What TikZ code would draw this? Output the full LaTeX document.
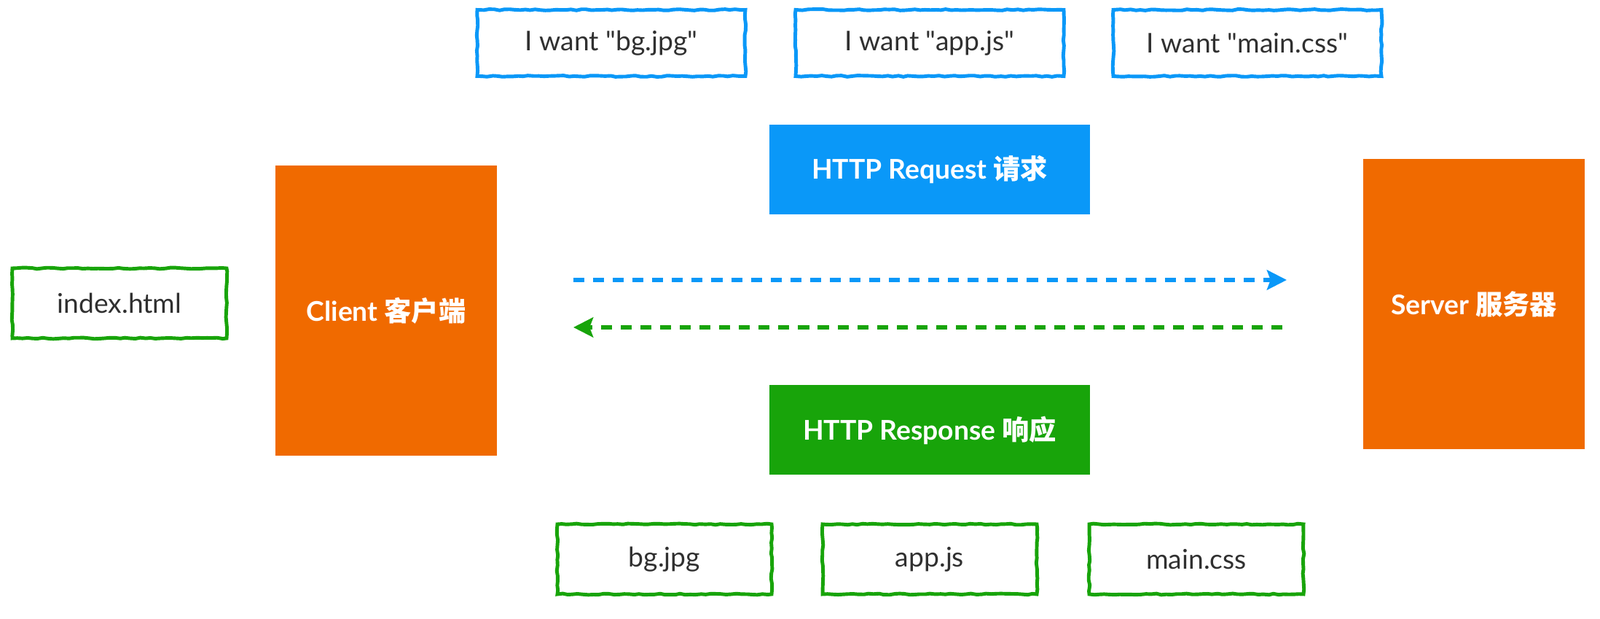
\documentclass[tikz,border=0pt]{standalone}
\usepackage{fontspec}
\setmainfont{Lato}[Ligatures=TeXOff]
\newfontfamily\cjk{Noto Sans CJK SC}
\usetikzlibrary{arrows.meta,decorations.pathmorphing}
\definecolor{reqblue}{HTML}{0A98F8}
\definecolor{resgreen}{HTML}{18A40A}
\definecolor{endorange}{HTML}{F06A00}
\definecolor{filegray}{HTML}{303030}

\begin{document}
\begin{tikzpicture}[
  x=1cm, y=1cm,
  every node/.style={inner sep=1pt, font=\fontsize{10.6pt}{12pt}\selectfont},
  sketch/.style={draw, line width=1.4pt, fill=white, text=filegray,
    decorate, decoration={random steps, segment length=2pt, amplitude=0.25pt}},
  askbox/.style={sketch, draw=reqblue, minimum width=3.68cm, minimum height=0.91cm},
  filebox/.style={sketch, draw=resgreen, minimum width=2.94cm, minimum height=0.96cm},
  endbox/.style={fill=endorange, text=white, minimum width=3.04cm, minimum height=3.98cm,
    font=\fontsize{10.6pt}{12pt}\selectfont\bfseries},
  msgbox/.style={text=white, minimum width=4.40cm, minimum height=1.23cm,
    font=\fontsize{10.6pt}{12pt}\selectfont\bfseries},
  flow/.style={draw, line width=1.7pt, dash pattern=on 4.3pt off 3.4pt,
    -{Stealth[length=7.7pt, width=7.7pt, inset=1.4pt]}}]

  \useasboundingbox (0,0) rectangle (21.96,8.49);

  % ---- requests ------------------------------------------------------------
  \node[askbox] (wantbg)  at (8.39,7.90)  {I want "bg.jpg"};
  \node[askbox] (wantapp) at (12.76,7.90) {I want "app.js"};
  \node[askbox] (wantcss) at (17.12,7.90) {I want "main.css"};
  \node[msgbox, fill=reqblue] (request) at (12.76,6.16) {HTTP Request {\cjk 请求}};

  % ---- ends ----------------------------------------------------------------
  \node[filebox] (index) at (1.64,4.33) {index.html};
  \node[endbox] (client) at (5.30,4.23) {Client {\cjk 客户端}};
  \node[endbox] (server) at (20.23,4.32) {Server {\cjk 服务器}};

  % ---- responses -----------------------------------------------------------
  \node[msgbox, fill=resgreen] (response) at (12.76,2.59) {HTTP Response {\cjk 响应}};
  \node[filebox] (gotbg)  at (9.12,0.82)  {bg.jpg};
  \node[filebox] (gotapp) at (12.76,0.82) {app.js};
  \node[filebox] (gotcss) at (16.42,0.82) {main.css};

  % ---- arrows --------------------------------------------------------------
  % both run 1.05 clear of the orange boxes
  \coordinate (sendA) at (7.87,4.65);
  \coordinate (sendB) at (17.66,4.65);
  \coordinate (backA) at (17.60,4.00);
  \coordinate (backB) at (7.87,4.00);
  \draw[flow, reqblue]  (sendA) -- (sendB);
  \draw[flow, resgreen] (backA) -- (backB);
\end{tikzpicture}
\end{document}
